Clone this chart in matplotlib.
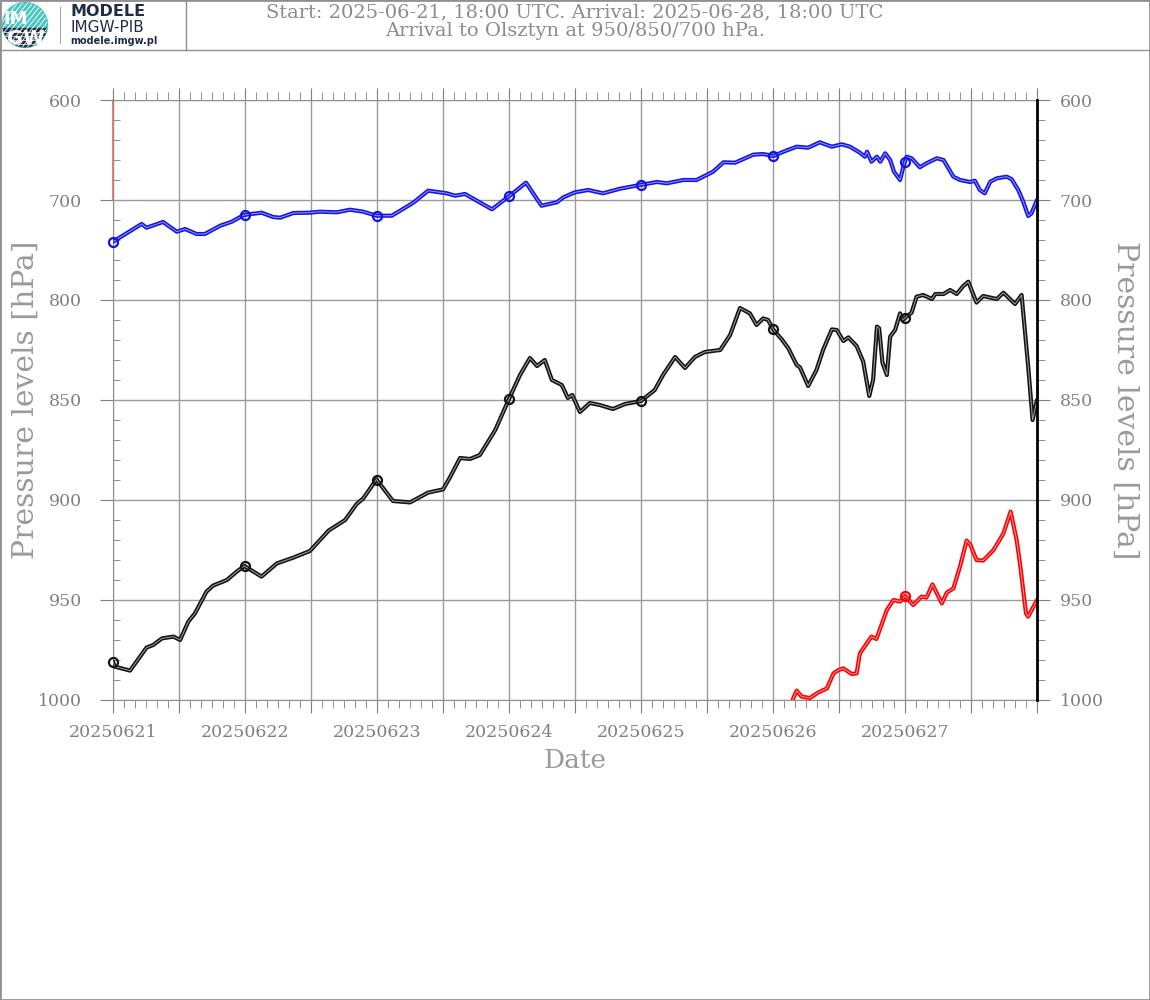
import numpy as np
import matplotlib.pyplot as plt
from matplotlib.patches import Circle, Rectangle
from matplotlib.lines import Line2D
from matplotlib.ticker import FixedLocator, FixedFormatter, NullFormatter

# back trajectories, hours since 2025-06-21 18:00 UTC and pressure [hPa]
blue_h = [0, 5.2, 6.1, 9.1, 11.6, 13.1, 15.2, 16.7, 19.5, 21.6, 23.8, 27.0, 29.1, 30.4,
          32.8, 35.8, 37.6, 40.7, 43.1, 45.5, 47.9, 50.7, 54.6, 57.3, 60.7, 62.2, 64.0,
          68.9, 71.9, 75.1, 77.9, 80.7, 81.9, 84.0, 86.4, 89.1, 92.2, 95.8, 98.9, 100.7,
          103.7, 106.1, 109.1, 111.0, 113.1, 116.4, 118.2, 120.1, 121.9, 124.3, 126.4,
          128.5, 130.7, 132.5, 134.0, 135.8, 136.7, 137.1, 137.9, 138.9, 139.5, 140.4,
          141.3, 142.0, 143.1, 143.7, 144.3, 145.2, 146.7, 147.9, 149.8, 151.0, 152.8,
          154.0, 155.8, 156.7, 157.6, 158.5, 159.5, 160.7, 162.5, 163.4, 164.6, 165.5,
          166.4, 167.0, 168]
blue_p = [741.7, 724, 727.7, 722, 731.7, 729, 734, 734, 725.7, 721.7, 715, 712.7, 717, 717.7,
          713, 712.7, 711.7, 712.3, 709.7, 711.7, 715.7, 715.7, 702.7, 690.7, 693.3, 695.7, 694,
          709.3, 696.7, 682.7, 705.7, 702.3, 697.3, 692.3, 690, 693.3, 688.7, 685, 682, 683.3,
          680, 680, 671.7, 662.3, 662.7, 654.7, 654, 656, 651.7, 646.7, 647.7,
          642.3, 646.7, 644.3, 646.7, 652.7, 656.7, 651.7, 661.7, 656.7, 661.7, 653.3,
          660, 671.7, 680, 666.7, 656.7, 658.3, 667.3, 663.3, 658.3, 660, 676.7,
          680, 682, 680.7, 690, 693.3, 681.7, 678.3, 676.7, 679.3, 690, 701.7,
          716, 713.3, 700]

black_h = [0, 0.3, 3.1, 6.1, 7.3, 8.9, 11.0, 12.2, 13.7, 14.9, 17.0, 18.2, 20.7, 22.5, 23.9,
           27.0, 29.8, 32.8, 35.8, 39.2, 42.2, 44.3, 45.5, 47.9, 50.9, 54.0, 57.3, 60.0,
           61.3, 63.1, 64.9, 66.7, 69.5, 72.0, 74.0, 75.8, 77.1, 78.5, 79.8, 81.6, 82.7,
           83.5, 84.9, 86.7, 88.5, 90.9, 93.1, 96.0, 98.5, 100.0, 102.2, 104.0, 105.8,
           107.6, 110.4, 112.2, 114.0, 115.8, 117.0, 118.2, 119.1, 120.1, 121.6, 122.8,
           124.3, 124.9, 126.4, 127.9, 129.1, 130.7, 131.6, 132.8, 133.7, 135.2, 136.4,
           137.5, 138.2, 138.9, 139.3, 139.9, 140.7, 141.3, 142.2, 143.1, 143.6, 144.3,
           145.2, 146.1, 147.3, 148.9, 149.5, 151.0, 152.2, 153.4, 154.6, 155.5, 156.1,
           157.0, 158.2, 160.7, 161.9, 164.0, 165.2, 166.4, 167.2, 168]
black_p = [980.8, 983.3, 985.3, 973.8, 972.5, 969.2, 968.3, 970, 960.8, 956.7, 945.8, 942.8, 940, 935.8, 933,
           938.3, 931.7, 928.8, 925.5, 915.3, 910, 902, 899.2, 889.7, 900.5, 901.2, 896.3, 894.7,
           888.5, 879, 879.5, 877.5, 865, 849.5, 837.5, 829, 833, 830, 840, 842.5, 849,
           847.5, 856, 851.5, 852.5, 854.5, 852, 850.5, 845, 837.5, 828.5, 834, 828.5,
           826, 825, 817.5, 804, 806.7, 812.5, 809.2, 810, 815, 819.7, 824.2,
           832.5, 833.7, 843, 835, 825, 814.7, 815, 820.5, 818.7, 823, 830.8,
           848, 840, 813.3, 814.2, 831.3, 837.5, 818.3, 815, 806.7, 810, 808.3,
           806.3, 796.7, 795, 799, 794, 794, 790, 794, 786, 781.7, 790,
           801.3, 796, 799, 792.7, 802, 795, 833.3, 860, 850]

red_h = [123.6, 124.3, 125.2, 126.7, 128.2, 129.8, 131.0, 131.9, 132.8, 134.3, 135.2, 135.8,
         137.9, 138.8, 140.7, 141.9, 143.1, 144.0, 145.5, 147.0, 147.9, 149.0, 150.7, 151.6,
         152.8, 154.0, 155.2, 155.9, 157.0, 158.2, 160.1, 161.9, 163.2, 164.3, 164.9, 166.0,
         166.4, 168]
red_p = [999.7, 995.3, 998.3, 999, 996.3, 994.2, 986.7, 985, 984.2, 987, 986.7, 976.7,
         968.3, 969.5, 955, 950, 950.8, 948, 952.5, 948.3, 948.8, 942.2, 951.7, 946.3,
         944.2, 933.3, 920.3, 922.5, 930, 930.3, 925, 916.7, 905.8, 920, 931.7, 956.7,
         958.3, 950]
red_stub_h = [0, 0]
red_stub_p = [600, 700]

p_levels = [600, 700, 800, 850, 900, 950, 1000]
p_minor = [620, 640, 660, 680, 720, 740, 760, 780, 810, 820, 830, 840, 860, 870, 880, 890,
           910, 920, 930, 940, 960, 970, 980, 990]
day_labels = ['20250621', '20250622', '20250623', '20250624', '20250625', '20250626', '20250627']

SERIF = 'DejaVu Serif'
TXT = '#8c8c8c'
TICK = '#808080'


def fwd(p):
    return np.interp(p, p_levels, np.arange(len(p_levels)))


def inv(v):
    return np.interp(v, np.arange(len(p_levels)), p_levels)


fig = plt.figure(figsize=(11.5, 10), dpi=100)
W, H = 1150.0, 1000.0

# ---- header ----
fig.add_artist(Line2D([0, 1], [1 - 50 / H, 1 - 50 / H], color='#909090', lw=1, transform=fig.transFigure))
fig.add_artist(Line2D([186 / W, 186 / W], [1 - 50 / H, 1], color='#909090', lw=1, transform=fig.transFigure))
fig.add_artist(Rectangle((0, 0), 1, 1, transform=fig.transFigure, fill=False, ec='#909090', lw=2))

lax = fig.add_axes([0, 1 - 50 / H, 186 / W, 50 / H])
lax.set_xlim(0, 186)
lax.set_ylim(50, 0)
lax.axis('off')
circ = Circle((25, 25), 22.5, color='#49c4bf')
lax.add_patch(circ)
for k in range(-40, 60, 5):
    ln, = lax.plot([k, k + 40], [50, 0], color='white', lw=0.9, alpha=0.75)
    ln.set_clip_path(circ)
band = Rectangle((0, 28), 60, 30, color='#1f2c47')
lax.add_patch(band)
band.set_clip_path(circ)
for yy in [32, 36, 40, 44]:
    ln, = lax.plot([0, 60], [yy, yy], color='white', lw=0.5)
    ln.set_clip_path(circ)
lax.text(16, 19, 'IM', color='white', fontsize=13, fontweight='bold', ha='center', va='center', zorder=6)
lax.text(26, 38, 'GW', color='white', fontsize=14, fontweight='bold', ha='center', va='center', zorder=6)
lax.plot([60, 60], [7, 43], color='#aaaaaa', lw=0.8)
lax.text(70, 12, 'MODELE', color='#1f2c47', fontsize=11.5, fontweight='bold', va='center')
lax.text(70, 27, 'IMGW-PIB', color='#1f2c47', fontsize=11, va='center')
lax.text(70, 40.5, 'modele.imgw.pl', color='#1f2c47', fontsize=7, fontweight='bold', va='center')

fig.text(575 / W, 1 - 12 / H, 'Start: 2025-06-21, 18:00 UTC. Arrival: 2025-06-28, 18:00 UTC',
         ha='center', va='center', fontsize=14, color=TXT, family=SERIF)
fig.text(575 / W, 1 - 31 / H, 'Arrival to Olsztyn at 950/850/700 hPa.',
         ha='center', va='center', fontsize=14, color=TXT, family=SERIF)

# ---- main axes ----
ax = fig.add_axes([113 / W, 0.3, 924 / W, 0.6])
ax.set_yscale('function', functions=(fwd, inv))
ax.set_xlim(0, 168)
ax.set_ylim(1000, 600)

ax.xaxis.set_major_locator(FixedLocator(list(range(0, 169, 12))))
xlabs = []
for t in range(0, 169, 12):
    xlabs.append(day_labels[t // 24] if t % 24 == 0 and t < 168 else '')
ax.xaxis.set_major_formatter(FixedFormatter(xlabs))
ax.xaxis.set_minor_locator(FixedLocator([t for t in range(0, 169, 2) if t % 12]))
ax.yaxis.set_major_locator(FixedLocator(p_levels))
ax.yaxis.set_major_formatter(FixedFormatter([str(p) for p in p_levels]))
ax.yaxis.set_minor_locator(FixedLocator(p_minor))
ax.yaxis.set_minor_formatter(NullFormatter())

ax.grid(True, which='major', color='#9a9a9a', lw=1)
ax.set_axisbelow(True)
for s in ['top', 'left', 'bottom']:
    ax.spines[s].set_color('#909090')
ax.spines['right'].set_visible(False)

ax.tick_params(axis='x', which='major', top=True, bottom=True, direction='out', length=9,
               color=TICK, labelsize=12.5, labelcolor=TICK, pad=8)
ax.tick_params(axis='x', which='minor', top=True, bottom=True, direction='out', length=6, color=TICK)
ax.tick_params(axis='y', which='major', left=True, right=False, direction='out', length=9.4,
               color=TICK, labelsize=12.5, labelcolor=TICK, pad=13)
ax.tick_params(axis='y', which='minor', left=True, right=False, direction='in', length=5, color=TICK)
for lab in ax.get_xticklabels() + ax.get_yticklabels():
    lab.set_family(SERIF)

ax2 = ax.twinx()
ax2.set_yscale('function', functions=(fwd, inv))
ax2.set_ylim(1000, 600)
ax2.yaxis.set_major_locator(FixedLocator(p_levels))
ax2.yaxis.set_major_formatter(FixedFormatter([str(p) for p in p_levels]))
ax2.yaxis.set_minor_locator(FixedLocator(p_minor))
ax2.yaxis.set_minor_formatter(NullFormatter())
for s in ['top', 'left', 'bottom']:
    ax2.spines[s].set_visible(False)
ax2.spines['right'].set_color('black')
ax2.spines['right'].set_linewidth(2)
ax2.tick_params(axis='y', which='major', left=False, right=True, direction='out', length=9.4,
                color=TICK, labelsize=12.5, labelcolor=TICK, pad=7)
ax2.tick_params(axis='y', which='minor', left=False, right=True, direction='out', length=6, color=TICK)
for lab in ax2.get_yticklabels():
    lab.set_family(SERIF)

# ---- trajectories ----
series = [(blue_h, blue_p, '#1414e6', '#9a9aff'),
          (black_h, black_p, '#141414', '#a0a0a0'),
          (red_h, red_p, '#ff0000', '#ff9c9c')]
for hh, pp, c_out, c_in in series:
    ax.plot(hh, pp, color=c_out, lw=3.0, solid_joinstyle='round', solid_capstyle='round', zorder=3)
    ax.plot(hh, pp, color=c_in, lw=0.7, zorder=4)
    mh = [t for t in range(0, 168, 24) if hh[0] <= t <= hh[-1]]
    ax.plot(mh, np.interp(mh, hh, pp), 'o', ms=6.5, mfc='none', mec=c_out, mew=1.6,
            zorder=5, clip_on=False)
ax.plot(red_stub_h, red_stub_p, color='#c8786a', lw=1.2, zorder=3, clip_on=False)

fig.text(575 / W, 1 - 761 / H, 'Date', ha='center', va='center', fontsize=19, color='#9a9a9a', family=SERIF)
fig.text(26 / W, 1 - 400 / H, 'Pressure levels [hPa]', ha='center', va='center', rotation=90,
         fontsize=21.5, color='#9a9a9a', family=SERIF)
fig.text(1125 / W, 1 - 400 / H, 'Pressure levels [hPa]', ha='center', va='center', rotation=270,
         fontsize=21.5, color='#9a9a9a', family=SERIF)

fig.savefig('out.png', dpi=100)
